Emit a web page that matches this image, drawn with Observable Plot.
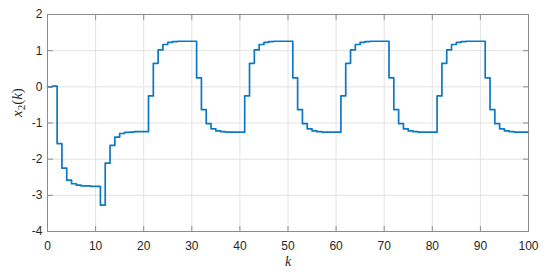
<!DOCTYPE html>
<html><head><meta charset="utf-8">
<script src="https://cdn.jsdelivr.net/npm/d3@7"></script>
<script src="https://cdn.jsdelivr.net/npm/@observablehq/plot@0.6"></script>
<style>html,body{margin:0;padding:0;background:#fff} svg{display:block}</style>
</head><body><div id="chart"></div>
<script>
// x2(k) for k = 0..100
const x2 = [
  0, 0.02, -1.57, -2.25, -2.58, -2.68, -2.72, -2.74, -2.74, -2.75,
  -2.75, -3.27, -2.11, -1.62, -1.39, -1.29, -1.26, -1.25, -1.24, -1.24,
  -1.24, -0.25, 0.65, 1.02, 1.17, 1.23, 1.25, 1.26, 1.26, 1.26,
  1.26, 0.25, -0.63, -1.02, -1.16, -1.22, -1.24, -1.25, -1.25, -1.25,
  -1.25, -0.25, 0.65, 1.02, 1.17, 1.23, 1.25, 1.26, 1.26, 1.26,
  1.26, 0.25, -0.63, -1.02, -1.16, -1.22, -1.24, -1.25, -1.25, -1.25,
  -1.25, -0.25, 0.65, 1.02, 1.17, 1.23, 1.25, 1.26, 1.26, 1.26,
  1.26, 0.25, -0.63, -1.02, -1.16, -1.22, -1.24, -1.25, -1.25, -1.25,
  -1.25, -0.25, 0.65, 1.02, 1.17, 1.23, 1.25, 1.26, 1.26, 1.26,
  1.26, 0.25, -0.63, -1.02, -1.16, -1.22, -1.24, -1.25, -1.25, -1.25,
  -1.25
];
const xTicks = [0, 10, 20, 30, 40, 50, 60, 70, 80, 90, 100];
const yTicks = [-4, -3, -2, -1, 0, 1, 2];
const xLabel = "k";
const yLabel = "x₂(k)";

const data = x2.map((v, i) => ({k: i, v}));
const tickShape = {draw(ctx, l) { ctx.moveTo(0, 0); ctx.lineTo(0, -l); }};
const axisColor = "#8c8c8c";
const tickOpts = {length: 5, anchor: "start", shape: tickShape, stroke: axisColor, strokeWidth: 1};

const chart = Plot.plot({
  width: 550, height: 275,
  marginLeft: 47, marginRight: 22, marginTop: 14, marginBottom: 44,
  style: {fontFamily: "'Liberation Sans', Arial, sans-serif", fontSize: "12px", color: "#262626", background: "#fff"},
  x: {domain: [0, 100]},
  y: {domain: [-4, 2]},
  marks: [
    Plot.gridX(xTicks, {stroke: "#e2e2e2", strokeOpacity: 1}),
    Plot.gridY(yTicks, {stroke: "#e2e2e2", strokeOpacity: 1}),
    Plot.line(data, {x: "k", y: "v", curve: "step-after", stroke: "#0b78c4", strokeWidth: 1.7}),
    Plot.frame({stroke: axisColor, strokeWidth: 1}),
    Plot.vector(xTicks, {x: d => d, frameAnchor: "bottom", rotate: 0, ...tickOpts}),
    Plot.vector(xTicks, {x: d => d, frameAnchor: "top", rotate: 180, ...tickOpts}),
    Plot.vector(yTicks, {y: d => d, frameAnchor: "left", rotate: 90, ...tickOpts}),
    Plot.vector(yTicks, {y: d => d, frameAnchor: "right", rotate: -90, ...tickOpts}),
    Plot.axisX(xTicks, {tickSize: 0, tickPadding: 10, label: null, tickFormat: d => String(d)}),
    Plot.axisY(yTicks, {tickSize: 0, tickPadding: 5, label: null, tickFormat: d => String(d)}),
    Plot.text([xLabel], {text: d => d, frameAnchor: "bottom", dy: 34, fontFamily: "'Liberation Serif', serif", fontStyle: "italic", fontSize: 14, fill: "#262626"}),
    Plot.text([yLabel], {text: d => d, frameAnchor: "left", dx: -30, dy: -6, rotate: -90, fontFamily: "'Liberation Serif', serif", fontSize: 15, fill: "#262626"})
  ]
});
document.getElementById("chart").appendChild(chart);

// style the y label like LaTeX: italic x and k, subscript 2
d3.select(chart).selectAll("text").filter(function() { return this.textContent === yLabel; }).each(function() {
  const t = d3.select(this);
  t.text(null);
  t.append("tspan").attr("font-style", "italic").text("x");
  t.append("tspan").attr("font-size", 11).attr("dy", 3).text("2");
  t.append("tspan").attr("dy", -3).text("(");
  t.append("tspan").attr("font-style", "italic").text("k");
  t.append("tspan").text(")");
});
</script>
</body></html>
